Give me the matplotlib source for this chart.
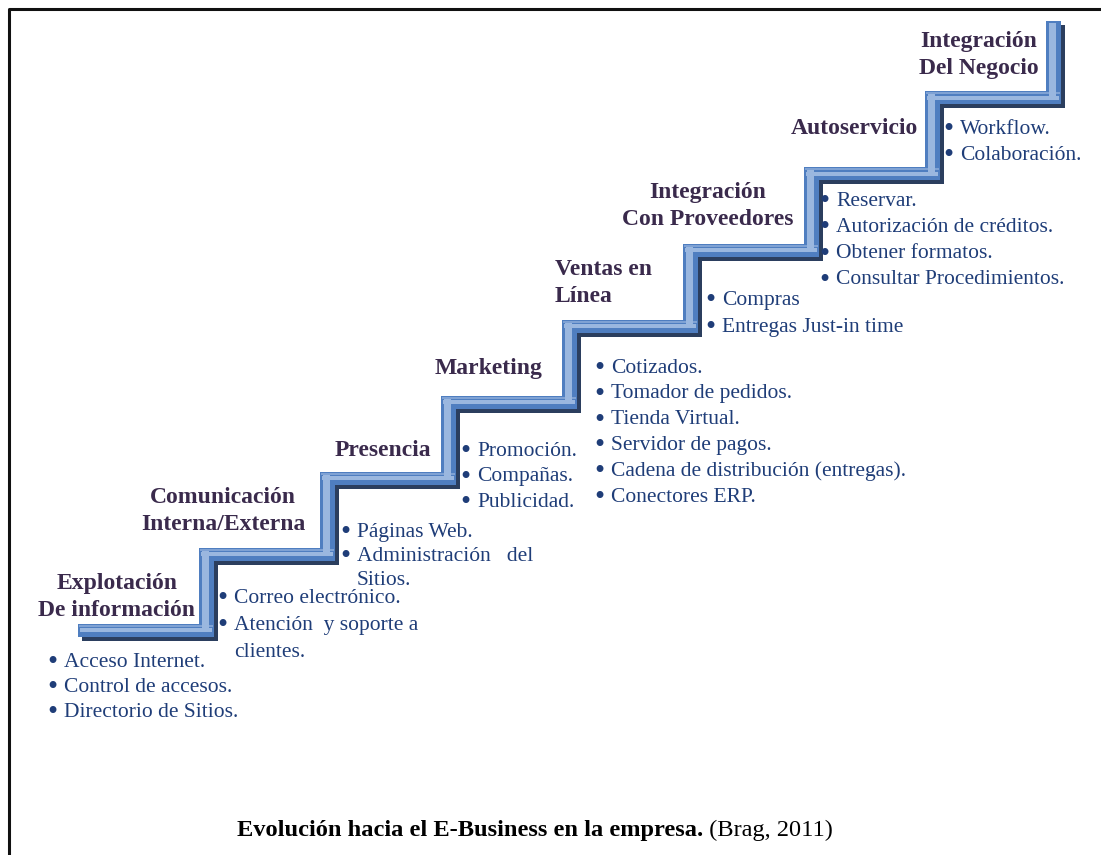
import matplotlib.pyplot as plt
from matplotlib.patches import Rectangle

plt.rcParams['font.family'] = ['Liberation Serif', 'DejaVu Serif']

# stage headings, bottom step first
stages = ["Explotación\nDe información", "Comunicación\nInterna/Externa", "Presencia",
          "Marketing", "Ventas en\nLínea", "Integración\nCon Proveedores",
          "Autoservicio", "Integración\nDel Negocio"]

items = [
    ["Acceso Internet.", "Control de accesos.", "Directorio de Sitios."],
    ["Correo electrónico.", "Atención  y soporte a", "+clientes."],
    ["Páginas Web.", "Administración   del", "+Sitios."],
    ["Promoción.", "Compañas.", "Publicidad."],
    ["Cotizados.", "Tomador de pedidos.", "Tienda Virtual.", "Servidor de pagos.",
     "Cadena de distribución (entregas).", "Conectores ERP."],
    ["Compras", "Entregas Just-in time"],
    ["Reservar.", "Autorización de créditos.", "Obtener formatos.", "Consultar Procedimientos."],
    ["Workflow.", "Colaboración."],
]

caption_bold = "Evolución hacia el E-Business en la empresa."
caption_ref = " (Brag, 2011)"

# layout (pixels)
head_pos = [(117, 597, 'center'), (223, 511, 'center'), (383, 450, 'center'),
            (489, 368, 'center'), (555, 283, 'left'), (708, 206, 'center'),
            (854, 129, 'center'), (979, 55, 'center')]
list_pos = [(50, 662), (220, 598), (343, 532), (463, 451),
            (597, 368), (708, 300), (822, 201), (946, 129)]
line_gap = [25, 27, 24, 25.5, 25.8, 27, 26.3, 26]

W, H = 1101, 855
fig = plt.figure(figsize=(W / 100, H / 100), dpi=100)
ax = fig.add_axes([0, 0, 1, 1])
ax.set_xlim(0, W)
ax.set_ylim(H, 0)
ax.axis('off')

# frame
ax.plot([9, 9, W + 5], [H + 5, 9, 9], color='#111111', lw=2.2, solid_capstyle='butt')

# staircase
x0, y0, dx, dy, tw, th, rw = 78, 630, 121, 76, 136, 13, 15
segs = []
for i in range(len(stages)):
    xs = x0 + dx * i
    yc = y0 - dy * i
    segs.append(('h', xs, yc - th / 2, tw, th))
    top = yc - dy if i < len(stages) - 1 else 28
    segs.append(('v', xs + tw - rw, top - th / 2, rw, yc - top + th / 2))

for kind, x, y, w, h in segs:
    ax.add_patch(Rectangle((x + 4, y + 4), w, h, color='#2b3e5e', lw=0, zorder=1))
for kind, x, y, w, h in segs:
    ax.add_patch(Rectangle((x, y), w, h, color='#4f7ec0', lw=0, zorder=2))
    if kind == 'h':
        ax.add_patch(Rectangle((x + 1, y + 1), w - 2, 2, color='#7fa2d4', lw=0, zorder=3))
        ax.add_patch(Rectangle((x + 2, y + h * 0.38), w - 4, h * 0.3, color='#9ab7df', lw=0, zorder=3))
    else:
        ax.add_patch(Rectangle((x + w * 0.22, y + 2), w * 0.45, h - 4, color='#9ab7df', lw=0, zorder=3))

for s, (x, y, ha) in zip(stages, head_pos):
    ax.text(x, y, s, ha=ha, va='center', fontsize=17, fontweight='bold',
            color='#3a2a4c', linespacing=1.32, zorder=5)

for lst, (x, y), g in zip(items, list_pos, line_gap):
    for k, t in enumerate(lst):
        yy = y + g * k
        if t.startswith('+'):
            ax.text(x + 14, yy, t[1:], ha='left', va='center', fontsize=15.5, color='#1f3d78')
        else:
            ax.text(x - 3, yy + 1, '•', ha='left', va='center', fontsize=21, color='#1f3d78')
            ax.text(x + 14, yy, t, ha='left', va='center', fontsize=15.5, color='#1f3d78')

t1 = ax.text(237, 830, caption_bold, ha='left', va='center', fontsize=17.6, fontweight='bold', color='black')
fig.canvas.draw()
bb = t1.get_window_extent()
ax.text(237 + bb.width, 830, caption_ref, ha='left', va='center', fontsize=17.6, color='black')

fig.savefig('out.png', dpi=100, facecolor='white')
